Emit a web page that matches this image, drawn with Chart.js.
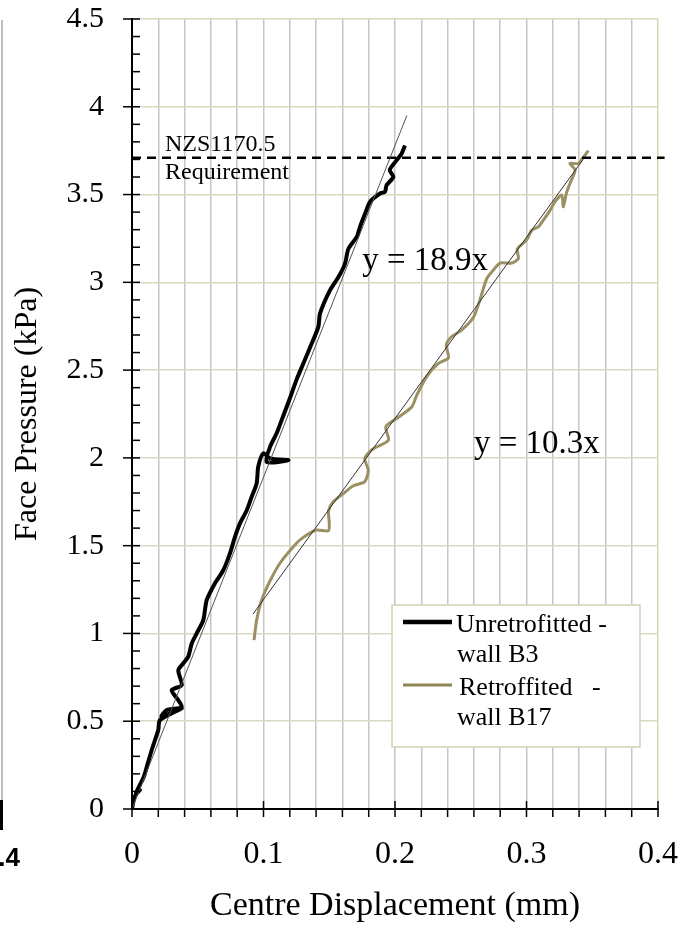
<!DOCTYPE html>
<html>
<head>
<meta charset="utf-8">
<script src="https://cdn.jsdelivr.net/npm/chart.js@4"></script>
<style>
  html, body { margin: 0; padding: 0; background: #fff; }
  #wrap { width: 689px; height: 928px; }
</style>
</head>
<body>
<div id="wrap"><canvas id="myChart" width="689" height="928"></canvas></div>
<script>
// Unretrofitted - wall B3 (black)
const b3X = [0.000, 0.002, 0.006, 0.003, 0.009, 0.012, 0.015, 0.0175, 0.020, 0.0213, 0.0378, 0.0225, 0.0264, 0.0378, 0.0352, 0.0302,
  0.0378, 0.0352, 0.039, 0.0428, 0.0454, 0.0492, 0.0542, 0.0568, 0.063, 0.0694, 0.0745, 0.0783, 0.0821, 0.0872, 0.091,
  0.0948, 0.096, 0.0999, 0.105, 0.1189, 0.1024, 0.105, 0.110, 0.1138, 0.1176, 0.1214, 0.125, 0.131, 0.136, 0.1417, 0.143,
  0.1506, 0.157, 0.162, 0.1645, 0.171, 0.1734, 0.1772, 0.181, 0.1886, 0.1924, 0.1936, 0.1987, 0.196, 0.2013, 0.205, 0.2076];
const b3Y = [0.00, 0.07, 0.108, 0.09, 0.184, 0.26, 0.336, 0.393, 0.45, 0.507, 0.573, 0.526, 0.564, 0.58, 0.62, 0.677,
  0.706, 0.79, 0.83, 0.868, 0.943, 1.00, 1.076, 1.19, 1.285, 1.36, 1.456, 1.55, 1.627, 1.70, 1.778,
  1.855, 1.95, 2.026, 1.997, 1.987, 1.977, 2.063, 2.14, 2.215, 2.29, 2.367, 2.443, 2.55, 2.64, 2.746, 2.823,
  2.956, 3.03, 3.107, 3.19, 3.26, 3.316, 3.39, 3.458, 3.506, 3.516, 3.553, 3.60, 3.64, 3.696, 3.733, 3.78];

// Retroffited - wall B17 (tan)
const b17X = [0.0928, 0.0948, 0.0986, 0.105, 0.1125, 0.1227, 0.129, 0.140, 0.1493, 0.150, 0.1495, 0.153, 0.1607, 0.168,
  0.177, 0.1797, 0.177, 0.183, 0.195, 0.193, 0.2013, 0.2127, 0.2165, 0.224, 0.233, 0.2406, 0.239, 0.243, 0.2506,
  0.2596, 0.2646, 0.2697, 0.2748, 0.280, 0.2888, 0.2938, 0.293, 0.300, 0.304, 0.309, 0.3128, 0.3179, 0.3217, 0.3268,
  0.328, 0.3306, 0.334, 0.337, 0.333, 0.3395, 0.342, 0.347];
const b17Y = [0.962, 1.076, 1.19, 1.30, 1.40, 1.494, 1.54, 1.589, 1.585, 1.627, 1.70, 1.75, 1.797, 1.84,
  1.865, 1.93, 1.996, 2.05, 2.10, 2.177, 2.225, 2.29, 2.357, 2.462, 2.538, 2.57, 2.642, 2.69, 2.728,
  2.80, 2.90, 3.02, 3.07, 3.11, 3.11, 3.135, 3.19, 3.24, 3.297, 3.316, 3.354, 3.41, 3.46, 3.497,
  3.43, 3.515, 3.58, 3.64, 3.677, 3.677, 3.70, 3.75];

// linear fits and the code requirement line
const fitB3X = [0, 0.209];
const fitB3Y = [0, 3.95];
const fitB17X = [0.092, 0.343];
const fitB17Y = [1.11, 3.70];
const reqX = [0, 0.405];
const reqY = [3.71, 3.71];

const seriesLabels = [["Unretrofitted -", "wall B3"], ["Retroffited   -", "wall B17"]];
const fitLabels = ["y = 18.9x", "y = 10.3x"];
const reqLabel = ["NZS1170.5", "Requirement"];
const xTicks = [0, 0.1, 0.2, 0.3, 0.4];
const yTicks = [0, 0.5, 1, 1.5, 2, 2.5, 3, 3.5, 4, 4.5];

const serif = "'Liberation Serif', 'Times New Roman', serif";
const tan = "#9a9063";

function pts(xs, ys) {
  return xs.map((x, i) => ({ x: x, y: ys[i] }));
}
function near(v, list) {
  return list.some(t => Math.abs(t - v) < 1e-6);
}

// tick marks, annotations, legend and the cropped left edge
const extras = {
  id: "extras",
  afterDraw(chart) {
    const ctx = chart.ctx;
    const xs = chart.scales.x, ys = chart.scales.y;
    const area = chart.chartArea;
    ctx.save();

    ctx.strokeStyle = "#000";
    ctx.lineWidth = 1.5;
    for (let i = 0; i <= 45; i++) {
      const py = ys.getPixelForValue(i / 10);
      const major = i % 5 === 0;
      ctx.beginPath();
      ctx.moveTo(major ? area.left - 9 : area.left, py);
      ctx.lineTo(area.left + 8, py);
      ctx.stroke();
    }
    for (let i = 0; i <= 20; i++) {
      const px = xs.getPixelForValue(i * 0.02);
      const major = i % 5 === 0;
      ctx.beginPath();
      ctx.moveTo(px, major ? area.bottom - 8 : area.bottom);
      ctx.lineTo(px, area.bottom + 8);
      ctx.stroke();
    }

    ctx.fillStyle = "#000";
    ctx.textBaseline = "alphabetic";
    ctx.textAlign = "left";
    ctx.font = "24px " + serif;
    ctx.fillText(reqLabel[0], xs.getPixelForValue(0.0251), ys.getPixelForValue(3.75));
    ctx.fillText(reqLabel[1], xs.getPixelForValue(0.0251), ys.getPixelForValue(3.59));
    ctx.font = "33px " + serif;
    ctx.fillText(fitLabels[0], xs.getPixelForValue(0.175), ys.getPixelForValue(3.07));
    ctx.fillText(fitLabels[1], xs.getPixelForValue(0.26), ys.getPixelForValue(2.03));

    // legend box
    const lx = 392, ly = 605, lw = 248, lh = 142;
    ctx.fillStyle = "#fff";
    ctx.fillRect(lx, ly, lw, lh);
    ctx.strokeStyle = "#d4cfb4";
    ctx.lineWidth = 1.5;
    ctx.strokeRect(lx, ly, lw, lh);
    const sw = [{ c: "#000", w: 4.5, y: 622 }, { c: "#8f8657", w: 3, y: 685 }];
    ctx.font = "26px " + serif;
    ctx.fillStyle = "#000";
    sw.forEach((s, i) => {
      ctx.strokeStyle = s.c;
      ctx.lineWidth = s.w;
      ctx.beginPath();
      ctx.moveTo(403, s.y);
      ctx.lineTo(452, s.y);
      ctx.stroke();
      ctx.fillText(seriesLabels[i][0], i === 0 ? 456 : 459, s.y + 10);
      ctx.fillText(seriesLabels[i][1], 457, s.y + 40);
    });

    // cropped-off neighbour panel at the far left
    ctx.strokeStyle = "#bdbdbd";
    ctx.lineWidth = 2;
    ctx.beginPath();
    ctx.moveTo(2, 20);
    ctx.lineTo(2, 800);
    ctx.stroke();
    ctx.strokeStyle = "#000";
    ctx.lineWidth = 3;
    ctx.beginPath();
    ctx.moveTo(1.5, 800);
    ctx.lineTo(1.5, 830);
    ctx.stroke();
    ctx.font = "bold 26px 'Liberation Sans', Arial, sans-serif";
    ctx.textAlign = "right";
    ctx.fillText("0.4", 20, 866);
    ctx.restore();
  }
};

new Chart(document.getElementById("myChart"), {
  type: "scatter",
  data: {
    datasets: [
      {
        label: seriesLabels[0].join(" "),
        data: pts(b3X, b3Y),
        showLine: true,
        borderColor: "#000",
        borderWidth: 4,
        pointRadius: 0,
        tension: 0.25,
        order: 1
      },
      {
        label: seriesLabels[1].join(" "),
        data: pts(b17X, b17Y),
        showLine: true,
        borderColor: tan,
        borderWidth: 3,
        pointRadius: 0,
        tension: 0.25,
        order: 2
      },
      {
        label: fitLabels[0],
        data: pts(fitB3X, fitB3Y),
        showLine: true,
        borderColor: "#555",
        borderWidth: 1,
        pointRadius: 0,
        order: 0
      },
      {
        label: fitLabels[1],
        data: pts(fitB17X, fitB17Y),
        showLine: true,
        borderColor: "#333",
        borderWidth: 1,
        pointRadius: 0,
        order: 0
      },
      {
        label: reqLabel.join(" "),
        data: pts(reqX, reqY),
        showLine: true,
        borderColor: "#000",
        borderWidth: 2.5,
        borderDash: [9, 6],
        pointRadius: 0,
        clip: false,
        order: 0
      }
    ]
  },
  options: {
    responsive: false,
    animation: false,
    layout: { padding: { top: 19, right: 31, left: 0, bottom: 0 } },
    plugins: {
      legend: { display: false },
      tooltip: { enabled: false }
    },
    scales: {
      x: {
        type: "linear",
        min: 0,
        max: 0.4,
        afterFit(scale) {
          scale.height = 119;
          scale.paddingLeft = 0;
          scale.paddingRight = 0;
        },
        ticks: {
          stepSize: 0.02,
          autoSkip: false,
          maxRotation: 0,
          padding: 26,
          color: "#000",
          font: { family: serif, size: 32 },
          callback: v => near(v, xTicks) ? String(Math.round(v * 10) / 10) : ""
        },
        grid: {
          drawTicks: false,
          lineWidth: 1.5,
          color: c => Math.abs(c.tick.value - 0.4) < 1e-6 ? "#d9d4b8" : "#c6c6c6"
        },
        border: { color: "#000", width: 2 },
        title: {
          display: true,
          text: "Centre Displacement (mm)",
          color: "#000",
          font: { family: serif, size: 34 },
          padding: { top: 0, bottom: 2 }
        }
      },
      y: {
        type: "linear",
        min: 0,
        max: 4.5,
        afterFit(scale) {
          scale.width = 132;
          scale.paddingTop = 0;
          scale.paddingBottom = 0;
        },
        ticks: {
          stepSize: 0.1,
          autoSkip: false,
          padding: 28,
          color: "#000",
          font: { family: serif, size: 30 },
          callback: v => near(v, yTicks) ? String(Math.round(v * 10) / 10) : ""
        },
        grid: {
          drawTicks: false,
          lineWidth: 1.5,
          color: c => near(c.tick.value, yTicks) ? "#dcd7bf" : "rgba(0,0,0,0)"
        },
        border: { color: "#000", width: 2 },
        title: {
          display: true,
          text: "Face Pressure (kPa)",
          color: "#000",
          font: { family: serif, size: 32 },
          padding: { top: 8, bottom: 0 }
        }
      }
    }
  },
  plugins: [extras]
});
</script>
</body>
</html>
